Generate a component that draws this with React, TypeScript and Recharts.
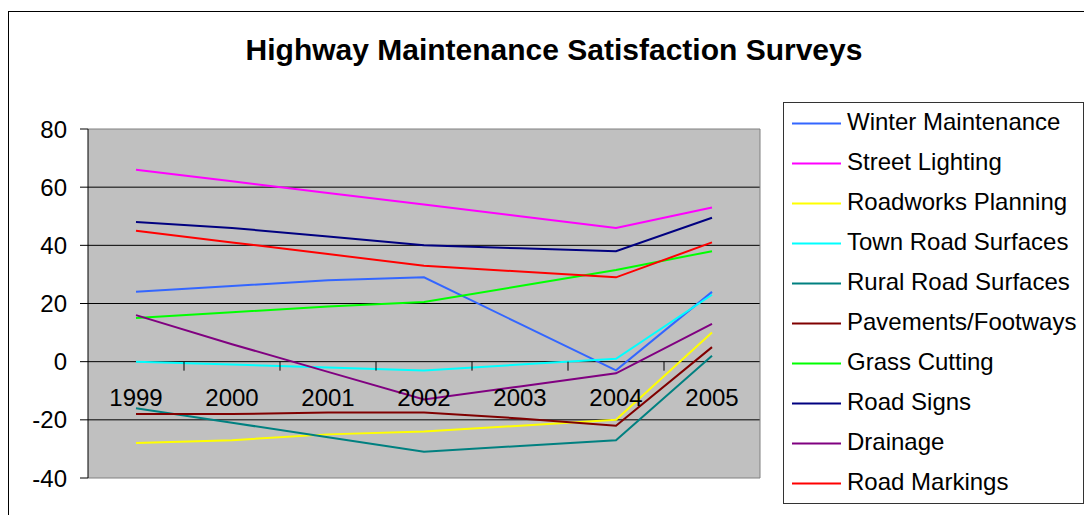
import { LineChart, Line, XAxis, YAxis, Legend, CartesianGrid, ReferenceLine } from 'recharts'

const years = ['1999', '2000', '2001', '2002', '2003', '2004', '2005']
const yTicks = [-40, -20, 0, 20, 40, 60, 80]

const winterMaintenance = [24, 26, 28, 29, 13, -3, 24]
const streetLighting = [66, 62, 58, 54, 50, 46, 53]
const roadworksPlanning = [-28, -27, -25, -24, -22, -20, 10]
const townRoadSurfaces = [0, -1, -2, -3, -1, 1, 23]
const ruralRoadSurfaces = [-16, -21, -26, -31, -29, -27, 2]
const pavementsFootways = [-18, -18, -17.5, -17.5, -19.5, -22, 5]
const grassCutting = [15, 17, 19, 20.5, 26, 31.5, 38]
const roadSigns = [48, 46, 43, 40, 39, 38, 49.5]
const drainage = [16, 6, -3.5, -13, -8.5, -4, 13]
const roadMarkings = [45, 41, 37, 33, 31, 29, 41]

const series = [
  { name: 'Winter Maintenance', values: winterMaintenance },
  { name: 'Street Lighting', values: streetLighting },
  { name: 'Roadworks Planning', values: roadworksPlanning },
  { name: 'Town Road Surfaces', values: townRoadSurfaces },
  { name: 'Rural Road Surfaces', values: ruralRoadSurfaces },
  { name: 'Pavements/Footways', values: pavementsFootways },
  { name: 'Grass Cutting', values: grassCutting },
  { name: 'Road Signs', values: roadSigns },
  { name: 'Drainage', values: drainage },
  { name: 'Road Markings', values: roadMarkings },
]

const colors = [
  '#3366FF', '#FF00FF', '#FFFF00', '#00FFFF', '#008080',
  '#800000', '#00FF00', '#000080', '#800080', '#FF0000',
]

const data = years.map((year, i) => {
  const row: Record<string, string | number> = { year }
  series.forEach((s) => {
    row[s.name] = s.values[i]
  })
  return row
})

const FONT = '"Liberation Sans", Arial, sans-serif'
const PLOT_LEFT = 88
const PLOT_RIGHT = 760
const PLOT_TOP = 129
const PLOT_BOTTOM = 478
const ZERO_Y = PLOT_TOP + ((PLOT_BOTTOM - PLOT_TOP) * 80) / 120
const BAND = (PLOT_RIGHT - PLOT_LEFT) / years.length

function YearTick(props: any) {
  const { x, payload, index } = props
  return (
    <g>
      <text x={x} y={ZERO_Y + 44} textAnchor="middle" fontSize={24} fontFamily={FONT} fill="#000">
        {payload.value}
      </text>
      {index < years.length - 1 && (
        <line x1={x + BAND / 2} x2={x + BAND / 2} y1={ZERO_Y} y2={ZERO_Y + 9} stroke="#000" />
      )}
    </g>
  )
}

function LegendBox() {
  return (
    <svg width={301} height={402} style={{ display: 'block' }}>
      <rect x={0.5} y={0.5} width={300} height={401} fill="#fff" stroke="#333" />
      {series.map((s, i) => (
        <g key={s.name}>
          <line x1={9} x2={58} y1={21.5 + i * 40} y2={21.5 + i * 40} stroke={colors[i]} strokeWidth={2} />
          <text x={64} y={28 + i * 40} fontSize={24} fontFamily={FONT} fill="#000">
            {s.name}
          </text>
        </g>
      ))}
    </svg>
  )
}

export default function App() {
  return (
    <div style={{ position: 'absolute', left: 0, top: 0, width: 1084, height: 515, overflow: 'hidden', background: '#fff' }}>
      <div style={{ position: 'absolute', left: 8, top: 11, width: 1200, height: 600, border: '1px solid #000' }} />
      <div
        style={{
          position: 'absolute',
          left: 554,
          top: 33,
          transform: 'translateX(-50%)',
          whiteSpace: 'nowrap',
          fontFamily: FONT,
          fontWeight: 'bold',
          fontSize: 30,
          lineHeight: 'normal',
        }}
      >
        Highway Maintenance Satisfaction Surveys
      </div>
      <LineChart
        width={1084}
        height={515}
        data={data}
        margin={{ top: PLOT_TOP, right: 1084 - PLOT_RIGHT - 1, bottom: 515 - PLOT_BOTTOM - 1, left: PLOT_LEFT - 60 }}
      >
        <CartesianGrid horizontal={false} vertical={false} fill="#C0C0C0" fillOpacity={1} />
        {yTicks.map((v) => (
          <ReferenceLine
            key={v}
            y={v}
            stroke={v === -40 || v === 80 ? '#808080' : '#000'}
            strokeWidth={1}
          />
        ))}
        <XAxis
          dataKey="year"
          height={1}
          padding={{ left: BAND / 2, right: BAND / 2 }}
          axisLine={false}
          tickLine={false}
          interval={0}
          tick={<YearTick />}
        />
        <YAxis
          width={60}
          domain={[-40, 80]}
          ticks={yTicks}
          interval={0}
          axisLine={{ stroke: '#000' }}
          tickLine={{ stroke: '#000' }}
          tickSize={8}
          tickMargin={13}
          tick={{ fontSize: 24, fontFamily: FONT, fill: '#000' }}
        />
        <YAxis
          yAxisId="edge"
          orientation="right"
          width={1}
          domain={[-40, 80]}
          tick={false}
          tickLine={false}
          axisLine={{ stroke: '#808080' }}
        />
        {series.map((s, i) => (
          <Line
            key={s.name}
            type="linear"
            dataKey={s.name}
            stroke={colors[i]}
            strokeWidth={2}
            dot={false}
            activeDot={false}
            isAnimationActive={false}
          />
        ))}
        <Legend
          layout="vertical"
          align="center"
          verticalAlign="middle"
          wrapperStyle={{ left: 783, top: 102, width: 301, height: 402 }}
          content={<LegendBox />}
        />
      </LineChart>
    </div>
  )
}
